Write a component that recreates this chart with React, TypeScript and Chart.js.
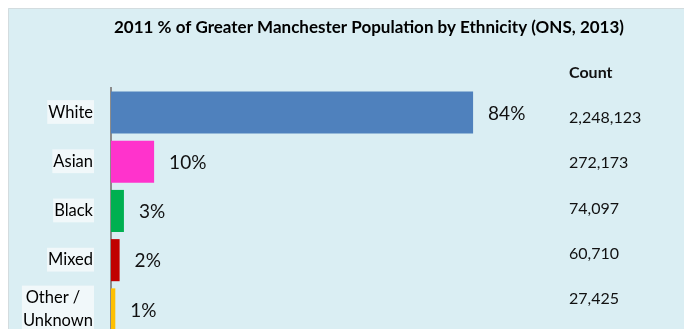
import React, { useEffect, useRef } from "react";
import { Chart, registerables } from "chart.js";

Chart.register(...registerables);

const categories: (string | string[])[] = ["White", "Asian", "Black", "Mixed", ["Other /   ", "Unknown"]];
const percentages = [84, 10, 3, 2, 1];
const counts = ["2,248,123", "272,173", "74,097", "60,710", "27,425"];
const barColors = ["#4F81BD", "#FF33CC", "#00B050", "#C00000", "#FFC000"];
const titleText = "2011 % of Greater Manchester Population by Ethnicity (ONS, 2013)";
const countHeader = "Count";

const FONT = "Lato, 'Open Sans', sans-serif";
const TICK_SIZE = 16.5;
const TICK_LH = 1.38;
const TICK_PAD = 18;

const bgPlugin = {
  id: "panelBg",
  beforeDraw(chart: any) {
    const { ctx, width, height, chartArea } = chart;
    ctx.save();
    ctx.fillStyle = "#DAEEF3";
    ctx.fillRect(0, 0, width, height);
    ctx.strokeStyle = "#D3DCDF";
    ctx.lineWidth = 1;
    ctx.beginPath();
    ctx.moveTo(0.5, height);
    ctx.lineTo(0.5, 0.5);
    ctx.lineTo(width, 0.5);
    ctx.stroke();
    // label backdrops
    const yScale = chart.scales.y;
    ctx.font = `${TICK_SIZE}px ${FONT}`;
    ctx.fillStyle = "#F1F8FA";
    const right = chartArea.left - TICK_PAD + 1;
    categories.forEach((lab, i) => {
      const lines = Array.isArray(lab) ? lab : [lab];
      const w = Math.max(...lines.map((l) => ctx.measureText(l).width));
      const h = lines.length * TICK_SIZE * TICK_LH;
      const cy = yScale.getPixelForTick(i);
      ctx.fillRect(right - w - 2, cy - h / 2 - 1, w + 2, h + 1);
    });
    ctx.restore();
  },
};

const labelPlugin = {
  id: "valueLabels",
  afterDatasetsDraw(chart: any) {
    const { ctx, chartArea } = chart;
    const meta = chart.getDatasetMeta(0);
    ctx.save();
    ctx.fillStyle = "#111";
    ctx.font = `19px ${FONT}`;
    ctx.textAlign = "left";
    ctx.textBaseline = "middle";
    meta.data.forEach((bar: any, i: number) => {
      ctx.fillText(`${percentages[i]}%`, bar.x + 15, bar.y + 1);
    });
    // Count column
    const cx = chartArea.left + 458;
    ctx.font = `bold 16px ${FONT}`;
    ctx.fillText(countHeader, cx, chartArea.top - 15);
    ctx.font = `16px ${FONT}`;
    counts.forEach((c, i) => {
      ctx.fillText(c, cx, chartArea.top + 30 + i * 45.25);
    });
    ctx.restore();
  },
};

export default function App() {
  const ref = useRef<HTMLCanvasElement>(null);
  useEffect(() => {
    if (!ref.current) return;
    const chart = new Chart(ref.current, {
      type: "bar",
      data: {
        labels: categories,
        datasets: [
          {
            data: percentages,
            backgroundColor: barColors,
            borderWidth: 0,
            barPercentage: 0.855,
            categoryPercentage: 1,
          },
        ],
      },
      options: {
        indexAxis: "y",
        animation: false,
        responsive: false,
        maintainAspectRatio: false,
        layout: { padding: { left: 0, right: 0, top: 0, bottom: 74 } },
        plugins: {
          legend: { display: false },
          tooltip: { enabled: false },
          title: {
            display: true,
            text: titleText,
            color: "#000",
            font: { family: FONT, size: 17, weight: "bold", lineHeight: 1.2 },
            padding: { top: 9.5, bottom: 50 },
          },
        },
        scales: {
          x: { display: false, min: 0, max: 143.6 },
          y: {
            grid: { display: false, drawTicks: false },
            border: { display: true, color: "#8C8C8C", width: 2 },
            afterFit: (scale: any) => {
              scale.width = 103;
            },
            ticks: {
              padding: TICK_PAD,
              color: "#000",
              font: { family: FONT, size: TICK_SIZE, lineHeight: TICK_LH },
            },
          },
        },
      },
      plugins: [bgPlugin, labelPlugin],
    });
    return () => chart.destroy();
  }, []);
  return (
    <div
      style={{
        position: "fixed",
        left: 8,
        top: 8,
        width: 676,
        height: 321,
        overflow: "hidden",
      }}
    >
      <canvas ref={ref} width={722} height={400} style={{ width: 722, height: 400, display: "block" }} />
    </div>
  );
}
